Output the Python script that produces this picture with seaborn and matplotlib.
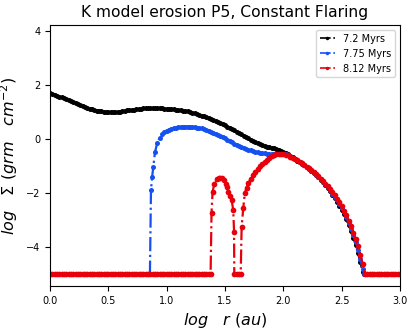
import numpy as np
import pandas as pd
import seaborn as sns
import matplotlib
matplotlib.use("Agg")
import matplotlib.pyplot as plt

# Datos: log r (au) frente a log Sigma (grm cm^-2)

# 7.2 Myrs (negro)
x_72 = [0.00, 0.02, 0.04, 0.06, 0.08, 0.10, 0.12, 0.14, 0.16, 0.18,
        0.20, 0.22, 0.24, 0.26, 0.28, 0.30, 0.32, 0.34, 0.36, 0.38,
        0.40, 0.42, 0.44, 0.46, 0.48, 0.50, 0.52, 0.54, 0.56, 0.58,
        0.60, 0.62, 0.64, 0.66, 0.68, 0.70, 0.72, 0.74, 0.76, 0.78,
        0.80, 0.82, 0.84, 0.86, 0.88, 0.90, 0.92, 0.94, 0.96, 0.98,
        1.00, 1.02, 1.04, 1.06, 1.08, 1.10, 1.12, 1.14, 1.16, 1.18,
        1.20, 1.22, 1.24, 1.26, 1.28, 1.30, 1.32, 1.34, 1.36, 1.38,
        1.40, 1.42, 1.44, 1.46, 1.48, 1.50, 1.52, 1.54, 1.56, 1.58,
        1.60, 1.62, 1.64, 1.66, 1.68, 1.70, 1.72, 1.74, 1.76, 1.78,
        1.80, 1.82, 1.84, 1.86, 1.88, 1.90, 1.92, 1.94, 1.96, 1.98,
        2.00, 2.02, 2.04, 2.06, 2.08, 2.10, 2.12, 2.14, 2.16, 2.18,
        2.20, 2.22, 2.24, 2.26, 2.28, 2.30, 2.32, 2.34, 2.36, 2.38,
        2.40, 2.42, 2.44, 2.46, 2.48, 2.50, 2.52, 2.54, 2.56, 2.58,
        2.60, 2.62, 2.64, 2.66, 2.68, 2.69]
y_72 = [1.70, 1.67, 1.64, 1.61, 1.57, 1.54, 1.51, 1.48, 1.44, 1.41,
        1.37, 1.33, 1.29, 1.25, 1.22, 1.18, 1.15, 1.12, 1.10, 1.07,
        1.05, 1.03, 1.02, 1.00, 0.99, 0.99, 0.99, 0.99, 1.00, 1.00,
        1.01, 1.03, 1.04, 1.06, 1.07, 1.08, 1.09, 1.10, 1.11, 1.12,
        1.13, 1.13, 1.14, 1.14, 1.14, 1.14, 1.13, 1.13, 1.13, 1.12,
        1.12, 1.11, 1.10, 1.10, 1.09, 1.08, 1.07, 1.05, 1.04, 1.02,
        1.00, 0.98, 0.95, 0.92, 0.90, 0.87, 0.84, 0.81, 0.77, 0.74,
        0.70, 0.66, 0.62, 0.58, 0.54, 0.50, 0.46, 0.41, 0.37, 0.32,
        0.27, 0.22, 0.17, 0.12, 0.07, 0.02, -0.03, -0.08, -0.12, -0.16,
        -0.20, -0.23, -0.26, -0.28, -0.31, -0.33, -0.35, -0.38, -0.40, -0.43,
        -0.47, -0.52, -0.57, -0.63, -0.68, -0.74, -0.80, -0.85, -0.91, -0.97,
        -1.04, -1.11, -1.18, -1.26, -1.34, -1.42, -1.51, -1.61, -1.71, -1.82,
        -1.93, -2.06, -2.19, -2.32, -2.47, -2.62, -2.79, -2.98, -3.18, -3.40,
        -3.65, -3.91, -4.21, -4.55, -4.92, -5.00]

# 7.75 Myrs (azul)
x_775 = [0.850, 0.857, 0.866, 0.876, 0.886, 0.900,
         0.92, 0.94, 0.96, 0.98,
         1.00, 1.02, 1.04, 1.06, 1.08, 1.10, 1.12, 1.14, 1.16, 1.18,
         1.20, 1.22, 1.24, 1.26, 1.28, 1.30, 1.32, 1.34, 1.36, 1.38,
         1.40, 1.42, 1.44, 1.46, 1.48, 1.50, 1.52, 1.54, 1.56, 1.58,
         1.60, 1.62, 1.64, 1.66, 1.68, 1.70, 1.72, 1.74, 1.76, 1.78,
         1.80, 1.82, 1.84, 1.86, 1.88, 1.90, 1.92, 1.94, 1.96, 1.98,
         2.00, 2.02, 2.04, 2.06, 2.08, 2.10, 2.12, 2.14, 2.16, 2.18,
         2.20, 2.22, 2.24, 2.26, 2.28, 2.30, 2.32, 2.34, 2.36, 2.38,
         2.40, 2.42, 2.44, 2.46, 2.48, 2.50, 2.52, 2.54, 2.56, 2.58,
         2.60, 2.62, 2.64, 2.66, 2.68, 2.69]
y_775 = [-5.00, -5.00, -1.90, -1.40, -1.03, -0.50,
         -0.14, 0.05, 0.17, 0.25,
         0.31, 0.35, 0.38, 0.40, 0.42, 0.44, 0.45, 0.46, 0.46, 0.46,
         0.45, 0.44, 0.43, 0.42, 0.40, 0.39, 0.36, 0.34, 0.31, 0.27,
         0.24, 0.20, 0.15, 0.11, 0.06, 0.02, -0.03, -0.08, -0.12, -0.17,
         -0.21, -0.25, -0.29, -0.32, -0.36, -0.39, -0.42, -0.45, -0.47, -0.49,
         -0.51, -0.52, -0.53, -0.54, -0.55, -0.55, -0.55, -0.55, -0.55, -0.55,
         -0.56, -0.57, -0.60, -0.64, -0.69, -0.74, -0.79, -0.85, -0.91, -0.97,
         -1.03, -1.10, -1.17, -1.24, -1.32, -1.40, -1.49, -1.58, -1.68, -1.79,
         -1.90, -2.02, -2.14, -2.27, -2.41, -2.56, -2.72, -2.90, -3.10, -3.32,
         -3.57, -3.83, -4.12, -4.44, -4.82, -5.00]

# 8.12 Myrs (rojo)
x_812 = [0.00, 0.02, 0.04, 0.06, 0.08, 0.10, 0.12, 0.14, 0.16, 0.18,
         0.20, 0.22, 0.24, 0.26, 0.28, 0.30, 0.32, 0.34, 0.36, 0.38,
         0.40, 0.42, 0.44, 0.46, 0.48, 0.50, 0.52, 0.54, 0.56, 0.58,
         0.60, 0.62, 0.64, 0.66, 0.68, 0.70, 0.72, 0.74, 0.76, 0.78,
         0.80, 0.82, 0.84, 0.86, 0.88, 0.90, 0.92, 0.94, 0.96, 0.98,
         1.00, 1.02, 1.04, 1.06, 1.08, 1.10, 1.12, 1.14, 1.16, 1.18,
         1.20, 1.22, 1.24, 1.26, 1.28, 1.30, 1.32, 1.34, 1.36, 1.377,
         1.385, 1.394, 1.410, 1.430, 1.445, 1.460, 1.475, 1.490, 1.505, 1.514,
         1.530, 1.545, 1.557, 1.571, 1.578, 1.580, 1.600, 1.620, 1.635, 1.643,
         1.657, 1.670, 1.685, 1.700,
         1.72, 1.74, 1.76, 1.78, 1.80, 1.82, 1.84, 1.86, 1.88, 1.90,
         1.92, 1.94, 1.96, 1.98, 2.00, 2.02, 2.04, 2.06, 2.08, 2.10,
         2.12, 2.14, 2.16, 2.18, 2.20, 2.22, 2.24, 2.26, 2.28, 2.30,
         2.32, 2.34, 2.36, 2.38, 2.40, 2.42, 2.44, 2.46, 2.48, 2.50,
         2.52, 2.54, 2.56, 2.58, 2.60, 2.62, 2.64, 2.66, 2.68, 2.70,
         2.72, 2.74, 2.76, 2.78, 2.80, 2.82, 2.84, 2.86, 2.88, 2.90,
         2.92, 2.94, 2.96, 2.98, 3.00]
y_812 = [-5.00, -5.00, -5.00, -5.00, -5.00, -5.00, -5.00, -5.00, -5.00, -5.00,
         -5.00, -5.00, -5.00, -5.00, -5.00, -5.00, -5.00, -5.00, -5.00, -5.00,
         -5.00, -5.00, -5.00, -5.00, -5.00, -5.00, -5.00, -5.00, -5.00, -5.00,
         -5.00, -5.00, -5.00, -5.00, -5.00, -5.00, -5.00, -5.00, -5.00, -5.00,
         -5.00, -5.00, -5.00, -5.00, -5.00, -5.00, -5.00, -5.00, -5.00, -5.00,
         -5.00, -5.00, -5.00, -5.00, -5.00, -5.00, -5.00, -5.00, -5.00, -5.00,
         -5.00, -5.00, -5.00, -5.00, -5.00, -5.00, -5.00, -5.00, -5.00, -5.00,
         -2.73, -1.95, -1.65, -1.50, -1.44, -1.43, -1.45, -1.52, -1.65, -1.77,
         -1.95, -2.10, -2.26, -2.63, -3.43, -5.00, -5.00, -5.00, -5.00, -3.25,
         -2.56, -2.00, -1.80, -1.64,
         -1.48, -1.35, -1.23, -1.12, -1.01, -0.92, -0.84, -0.76, -0.70, -0.64,
         -0.59, -0.56, -0.54, -0.54, -0.56, -0.58, -0.61, -0.65, -0.69, -0.74,
         -0.79, -0.84, -0.90, -0.96, -1.02, -1.08, -1.15, -1.22, -1.30, -1.38,
         -1.47, -1.56, -1.65, -1.75, -1.86, -1.97, -2.09, -2.22, -2.35, -2.50,
         -2.65, -2.83, -3.02, -3.24, -3.47, -3.72, -3.98, -4.28, -4.62, -5.00,
         -5.00, -5.00, -5.00, -5.00, -5.00, -5.00, -5.00, -5.00, -5.00, -5.00,
         -5.00, -5.00, -5.00, -5.00, -5.00]

etiquetas = ["7.2 Myrs", "7.75 Myrs", "8.12 Myrs"]
colores = ["black", "#1550f0", "#e8000b"]
tamanos = [7.2, 7.2, 8.2]


def main():
    fig = plt.figure(figsize=(4.16, 3.3), dpi=100)
    ax = fig.add_axes([0.120, 0.133, 0.8415, 0.791])

    series = [(x_72, y_72), (x_775, y_775), (x_812, y_812)]
    for (xs, ys), etiqueta, color, ms in zip(series, etiquetas, colores, tamanos):
        sns.lineplot(
            x=xs, y=ys, ax=ax,
            estimator=None, sort=False,
            color=color, linestyle="-.", linewidth=1.6,
            marker=".", markersize=ms,
            markeredgecolor=color, markeredgewidth=0,
            label=etiqueta,
        )

    ax.set_xlim(0, 3.0)
    ax.set_ylim(-5.45, 4.22)
    ax.set_yticks([-4, -2, 0, 2, 4])
    ax.tick_params(labelsize=7)
    ax.set_title("K model erosion P5, Constant Flaring", fontsize=11.2)
    ax.set_xlabel(r"$log \quad r\ (au)$", fontsize=11.5)
    ax.set_ylabel(r"$log \quad \Sigma\ (grm \quad cm^{-2})$", fontsize=11.5)
    leg = ax.legend(loc="upper right", fontsize=7, handlelength=1.6)
    for linea in leg.get_lines():
        linea.set_linewidth(1.2)
        linea.set_markersize(5)

    fig.savefig("out.png", dpi=100)
    plt.close(fig)


if __name__ == "__main__":
    main()
